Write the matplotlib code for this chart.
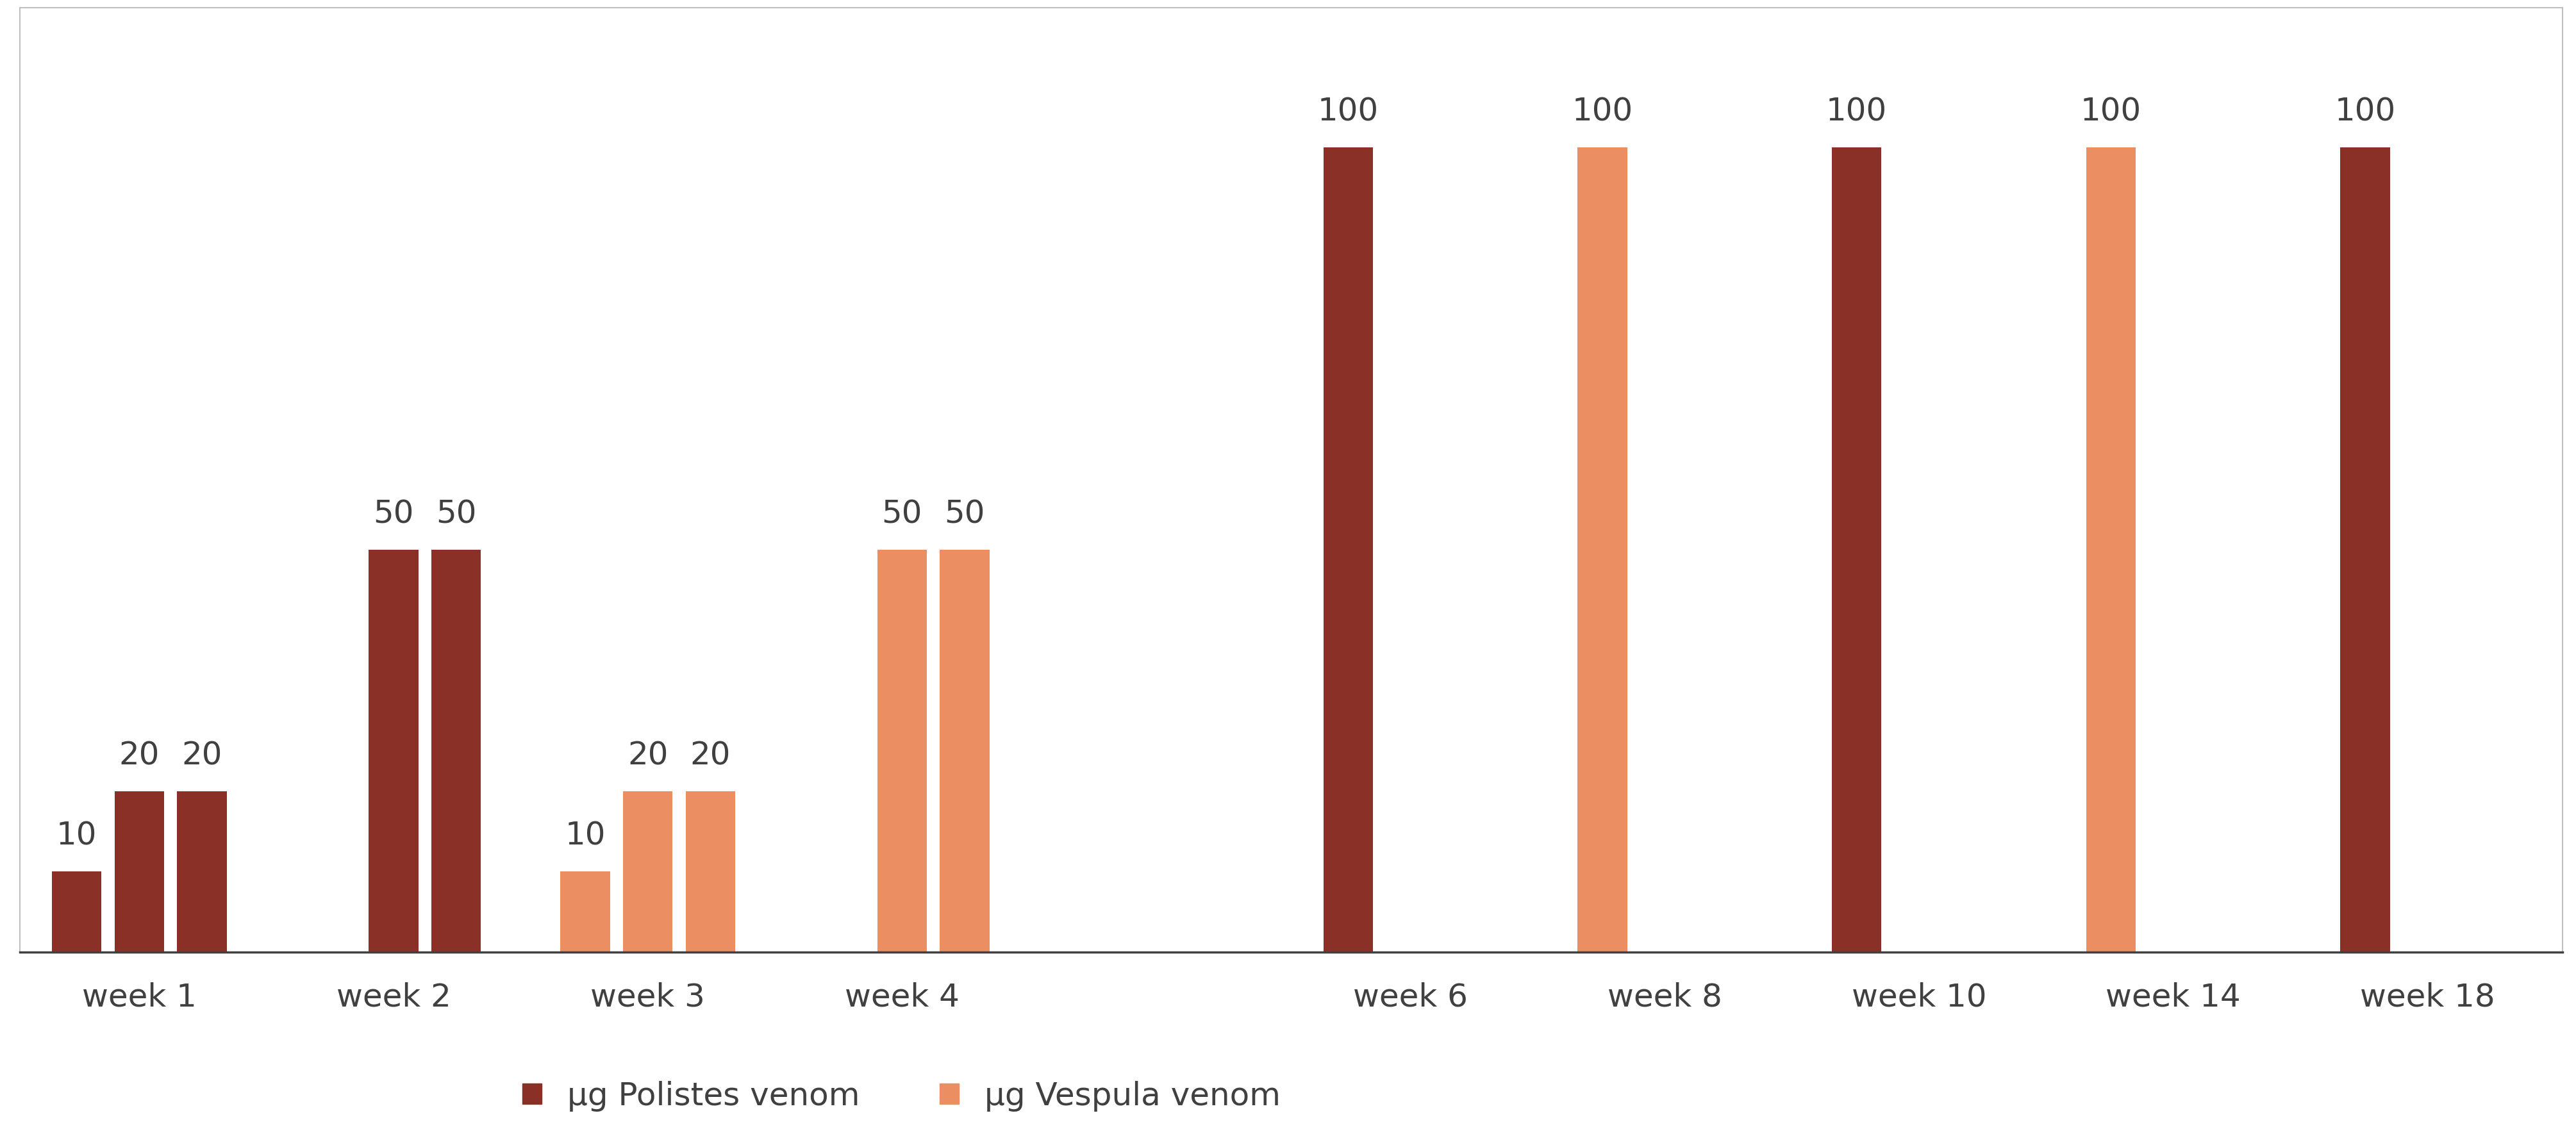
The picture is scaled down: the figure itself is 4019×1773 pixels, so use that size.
import matplotlib
matplotlib.use("Agg")
import matplotlib.pyplot as plt
from matplotlib.patches import Patch

categories = ["week 1", "week 2", "week 3", "week 4", "", "week 6", "week 8", "week 10", "week 14", "week 18"]
# three bar slots per category (left, middle, right); None = no bar
slot_left   = [10, None, 10, None, None, 100, 100, 100, 100, 100]
slot_mid    = [20, 50, 20, 50, None, None, None, None, None, None]
slot_right  = [20, 50, 20, 50, None, None, None, None, None, None]
# venom per category: "P" = Polistes, "V" = Vespula
venom = ["P", "P", "V", "V", None, "P", "V", "P", "V", "P"]

colors = {"P": "#8B3026", "V": "#EB8F62"}
labels = {"P": "µg Polistes venom", "V": "µg Vespula venom"}

fig = plt.figure(figsize=(40.19, 17.73), dpi=100)
ax = fig.add_axes([0.0077, 0.162, 0.987, 0.831])
step = 0.246
width = 0.195
for offset, vals in zip([-1, 0, 1], [slot_left, slot_mid, slot_right]):
    for i, v in enumerate(vals):
        if v is None:
            continue
        c = colors[venom[i]]
        ax.bar(i + offset * step, v, width=width, color=c, edgecolor="none")
        ax.text(i + offset * step, v + 2.5, str(v), ha="center", va="bottom",
                fontsize=36, color="#404040")

ax.set_xlim(-0.47, len(categories) - 0.47)
ax.set_ylim(0, 117.3)
ax.set_yticks([])
ax.set_xticks(range(len(categories)))
ax.set_xticklabels(categories, fontsize=36, color="#404040")
ax.tick_params(axis="x", length=0, pad=34)
for s in ["top", "left", "right"]:
    ax.spines[s].set_color("#bfbfbf")
    ax.spines[s].set_linewidth(1.5)
ax.spines["bottom"].set_color("#404040")
ax.spines["bottom"].set_linewidth(2.5)

handles = [Patch(color=colors[k], label=labels[k]) for k in ["P", "V"]]
fig.legend(handles=handles, loc="center", bbox_to_anchor=(0.35, 0.035), ncol=2,
           frameon=False, fontsize=36, labelcolor="#404040",
           handlelength=0.6, handleheight=0.6, columnspacing=2.5)
fig.savefig("out.png", dpi=100)
